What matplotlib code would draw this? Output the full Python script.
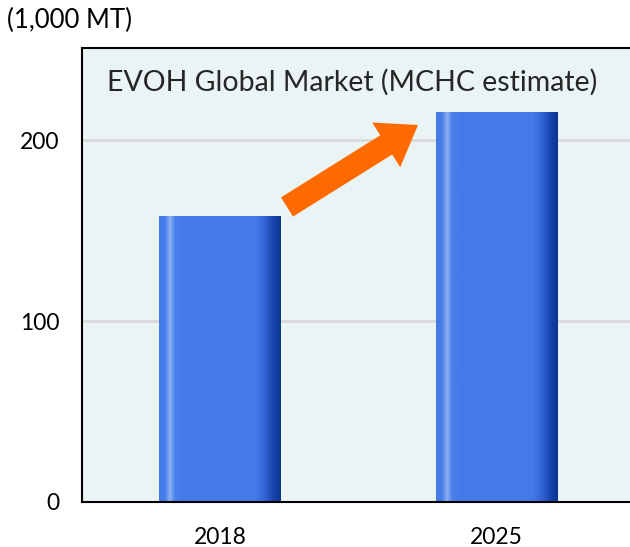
import numpy as np
import matplotlib
matplotlib.use("Agg")
import matplotlib.pyplot as plt
from matplotlib.colors import LinearSegmentedColormap

years = ["2018", "2025"]
volumes = [158, 215.5]
unit_label = "(1,000 MT)"
title = "EVOH Global Market (MCHC estimate)"

plt.rcParams['font.family'] = ['Lato', 'DejaVu Sans']

fig = plt.figure(figsize=(6.3, 5.47), dpi=100)
ax = fig.add_axes([82 / 630, 45 / 547, 552.5 / 630, 454 / 547])
ax.set_facecolor("#ebf4f5")

# horizontal shading across each bar: light stripe on the left, dark edge on the right
bar_cmap = LinearSegmentedColormap.from_list("bar", [
    (0.00, "#4379e8"), (0.05, "#4a80ec"), (0.09, "#8fb0f2"), (0.13, "#4a80ec"),
    (0.20, "#4479ea"), (0.80, "#4479ea"), (0.88, "#2f5fd0"), (0.95, "#1540a8"),
    (1.00, "#0c3593")])
grad = np.linspace(0, 1, 256).reshape(1, -1)

width = 0.44
x = np.arange(len(years))
bars = ax.bar(x, volumes, width=width, color="none", zorder=2)
for b in bars:
    x0, y0 = b.get_x(), b.get_y()
    ax.imshow(grad, cmap=bar_cmap, aspect="auto", zorder=2,
              extent=[x0, x0 + b.get_width(), y0, y0 + b.get_height()])

ax.set_xlim(-0.5, 1.5)
ax.set_ylim(0, 251)
ax.set_yticks([0, 100, 200])
ax.set_xticks(x)
ax.set_xticklabels(years)
ax.yaxis.grid(True, color="#d9d9d9", linewidth=2)
ax.set_axisbelow(True)
ax.tick_params(length=0, labelsize=16.5, colors="#000000")
ax.tick_params(axis="y", pad=16)
ax.tick_params(axis="x", pad=18)
for side in ["left", "bottom", "top"]:
    ax.spines[side].set_linewidth(1.5)
    ax.spines[side].set_color("#000000")
ax.spines["right"].set_visible(False)

ax.text(0.045, 0.925, title, transform=ax.transAxes, fontsize=20.5,
        color="#262626", va="center", ha="left")
fig.text(7 / 630, 1 - 20 / 547, unit_label, fontsize=18.5, va="center", ha="left")

ax.annotate("", xy=(418, 547 - 125), xytext=(287, 547 - 207),
            xycoords="figure pixels", textcoords="figure pixels",
            arrowprops=dict(arrowstyle="simple,head_length=27,head_width=38,tail_width=16.3",
                            mutation_scale=1, color="#ff6a00", shrinkA=0, shrinkB=0,
                            linewidth=0))

fig.savefig("out.png", dpi=100)
